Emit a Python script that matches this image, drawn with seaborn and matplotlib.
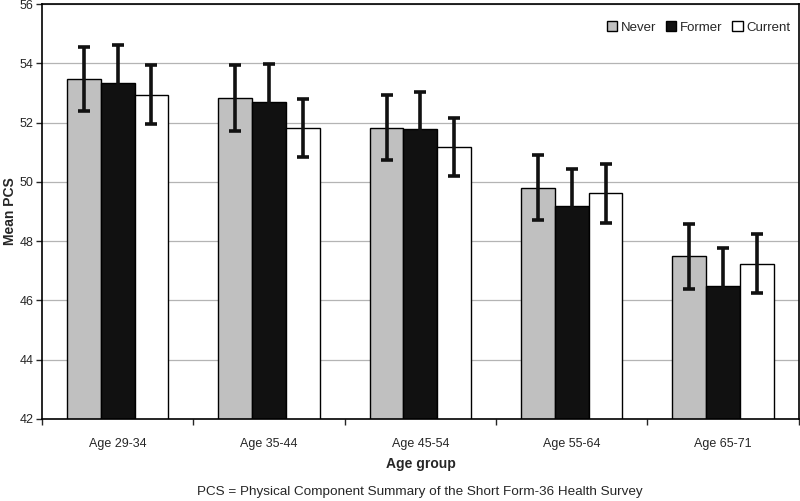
import pandas as pd
import seaborn as sns
import matplotlib.pyplot as plt
from matplotlib.ticker import FixedLocator, NullFormatter

# Values
age_groups = ["Age 29-34", "Age 35-44", "Age 45-54", "Age 55-64", "Age 65-71"]
status = ["Never", "Former", "Current"]
never = [53.47, 52.83, 51.83, 49.80, 47.49]
former = [53.35, 52.70, 51.77, 49.18, 46.50]
current = [52.95, 51.82, 51.18, 49.61, 47.24]
never_err = [1.08, 1.10, 1.10, 1.10, 1.10]
former_err = [1.27, 1.28, 1.27, 1.27, 1.26]
current_err = [1.00, 0.98, 0.98, 0.99, 1.00]

colors = {"Never": "#c0c0c0", "Former": "#111111", "Current": "#ffffff"}

df = pd.DataFrame({
    "age": age_groups * 3,
    "status": [s for s in status for _ in age_groups],
    "pcs": never + former + current,
    "err": never_err + former_err + current_err,
})

sns.set_style("white")
plt.rcParams["font.family"] = ["Liberation Sans", "DejaVu Sans"]

fig = plt.figure(figsize=(8, 5.01), dpi=100)
ax = fig.add_axes([0.0525, 0.1637, 0.946, 0.828])

sns.barplot(
    data=df, x="age", y="pcs", hue="status", order=age_groups, hue_order=status,
    palette=colors, width=0.67, errorbar=None, edgecolor="black", linewidth=1.0,
    ax=ax, zorder=2,
)

# error bars placed on the bar centres seaborn computed
for cont, s in zip(ax.containers, status):
    sub = df[df["status"] == s].set_index("age").loc[age_groups]
    xs = [p.get_x() + p.get_width() / 2 for p in cont.patches]
    ax.errorbar(xs, sub["pcs"], yerr=sub["err"], fmt="none", ecolor="#111111",
                elinewidth=2.6, capsize=4, capthick=2.6, zorder=3)

ax.set_ylim(42, 56)
ax.set_xlim(-0.5, 4.5)
ax.set_yticks(range(42, 57, 2))
ax.yaxis.grid(True, color="#b4b4b4", linewidth=0.9, zorder=0)
ax.set_axisbelow(True)
ax.tick_params(axis="y", left=True, length=4, width=1, labelsize=9, pad=2)
ax.tick_params(axis="x", which="major", length=0, labelsize=9, pad=14)
ax.xaxis.set_minor_locator(FixedLocator([i - 0.5 for i in range(6)]))
ax.xaxis.set_minor_formatter(NullFormatter())
ax.tick_params(axis="x", which="minor", bottom=True, length=4, width=1)

for sp in ax.spines.values():
    sp.set_color("black")
    sp.set_linewidth(1.2)

ax.set_xlabel("Age group", fontsize=10, fontweight="bold", labelpad=5)
ax.set_ylabel("Mean PCS", fontsize=10, fontweight="bold", labelpad=2)

ax.legend(loc="upper right", ncol=3, frameon=False, fontsize=9.5,
          handlelength=0.8, handleheight=0.8, handletextpad=0.3,
          columnspacing=0.7, bbox_to_anchor=(1.005, 0.988))

fig.text(0.525, 0.006, "PCS = Physical Component Summary of the Short Form-36 Health Survey",
         ha="center", va="bottom", fontsize=9.7)

fig.savefig("out.png", dpi=100)
